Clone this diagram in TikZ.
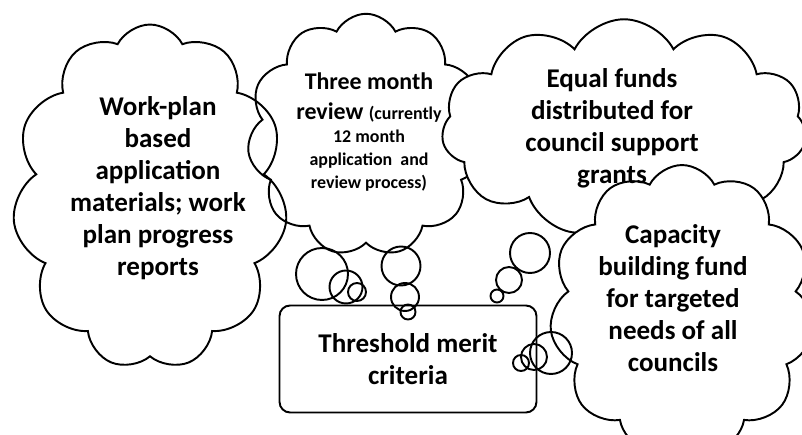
\documentclass[tikz,border=0pt]{standalone}
\usepackage{fontspec}
\setmainfont{Carlito}
\usepackage{tikz}
\usetikzlibrary{shapes.symbols}

\newcommand{\bigtext}{\fontsize{15.4}{18.2}\selectfont\bfseries}
\newcommand{\midtext}{\fontsize{13.6}{17}\selectfont\bfseries}
\newcommand{\smalltext}{\fontsize{10.2}{13}\selectfont\bfseries}

\begin{document}
\begin{tikzpicture}[x=0.02cm, y=-0.02cm,
    thought/.style={draw, cloud, cloud puffs=11, cloud puff arc=125, cloud ignores aspect, inner sep=0pt, line width=1.1pt},
    bubble/.style={draw, circle, inner sep=0pt, line width=1.1pt},
    words/.style={align=center, font=\bigtext, inner sep=0pt}]
    \useasboundingbox (0,0) rectangle (802,435);

    % Clouds
    \node [thought, minimum width=5.5cm, minimum height=6.9cm] (planCloud) at (150,197) {};
    \node [thought, minimum width=4.75cm, minimum height=4.85cm] (reviewCloud) at (366,135) {};
    \node [thought, fill=white, minimum width=7.3cm, minimum height=4.35cm] (fundsCloud) at (624,128) {};
    \node [thought, fill=white, minimum width=5.3cm, minimum height=5.8cm] (capacityCloud) at (682,310) {};

    % Box
    \node [draw, rectangle, rounded corners=6pt, line width=1.1pt, minimum width=5.14cm, minimum height=2.14cm, words] (criteria) at (408,359) {Threshold merit\\criteria};

    % Texts
    \node [words] (planText) at (158,188) {Work-plan\\based\\application\\materials; work\\plan progress\\reports};
    \node [words, font=\midtext] (reviewText) at (369,132) {Three month\\review \smalltext(currently\\[-4pt]\smalltext 12 month\\[-4pt]\smalltext application\ \ and\\[-4pt]\smalltext review process)};
    \node [words] (fundsText) at (612,128) {Equal funds\\distributed for\\council support\\grants};
    \node [words] (capacityText) at (673,298) {Capacity\\building fund\\for targeted\\needs of all\\councils};

    % Bubbles
    \node [bubble, minimum size=1.04cm] (planA) at (322,274) {};
    \node [bubble, minimum size=0.66cm] (planB) at (346,287) {};
    \node [bubble, minimum size=0.36cm] (planC) at (357,292) {};

    \node [bubble, minimum size=0.78cm] (reviewA) at (401,266) {};
    \node [bubble, minimum size=0.56cm] (reviewB) at (405,297) {};
    \node [bubble, minimum size=0.30cm] (reviewC) at (408,312) {};

    \node [bubble, minimum size=0.80cm] (fundsA) at (530,253) {};
    \node [bubble, minimum size=0.52cm] (fundsB) at (509,280) {};
    \node [bubble, minimum size=0.26cm] (fundsC) at (497,296) {};

    \node [bubble, minimum size=0.84cm] (capacityA) at (551,353) {};
    \node [bubble, minimum size=0.52cm] (capacityB) at (534,357) {};
    \node [bubble, minimum size=0.32cm] (capacityC) at (521,363) {};
\end{tikzpicture}
\end{document}
